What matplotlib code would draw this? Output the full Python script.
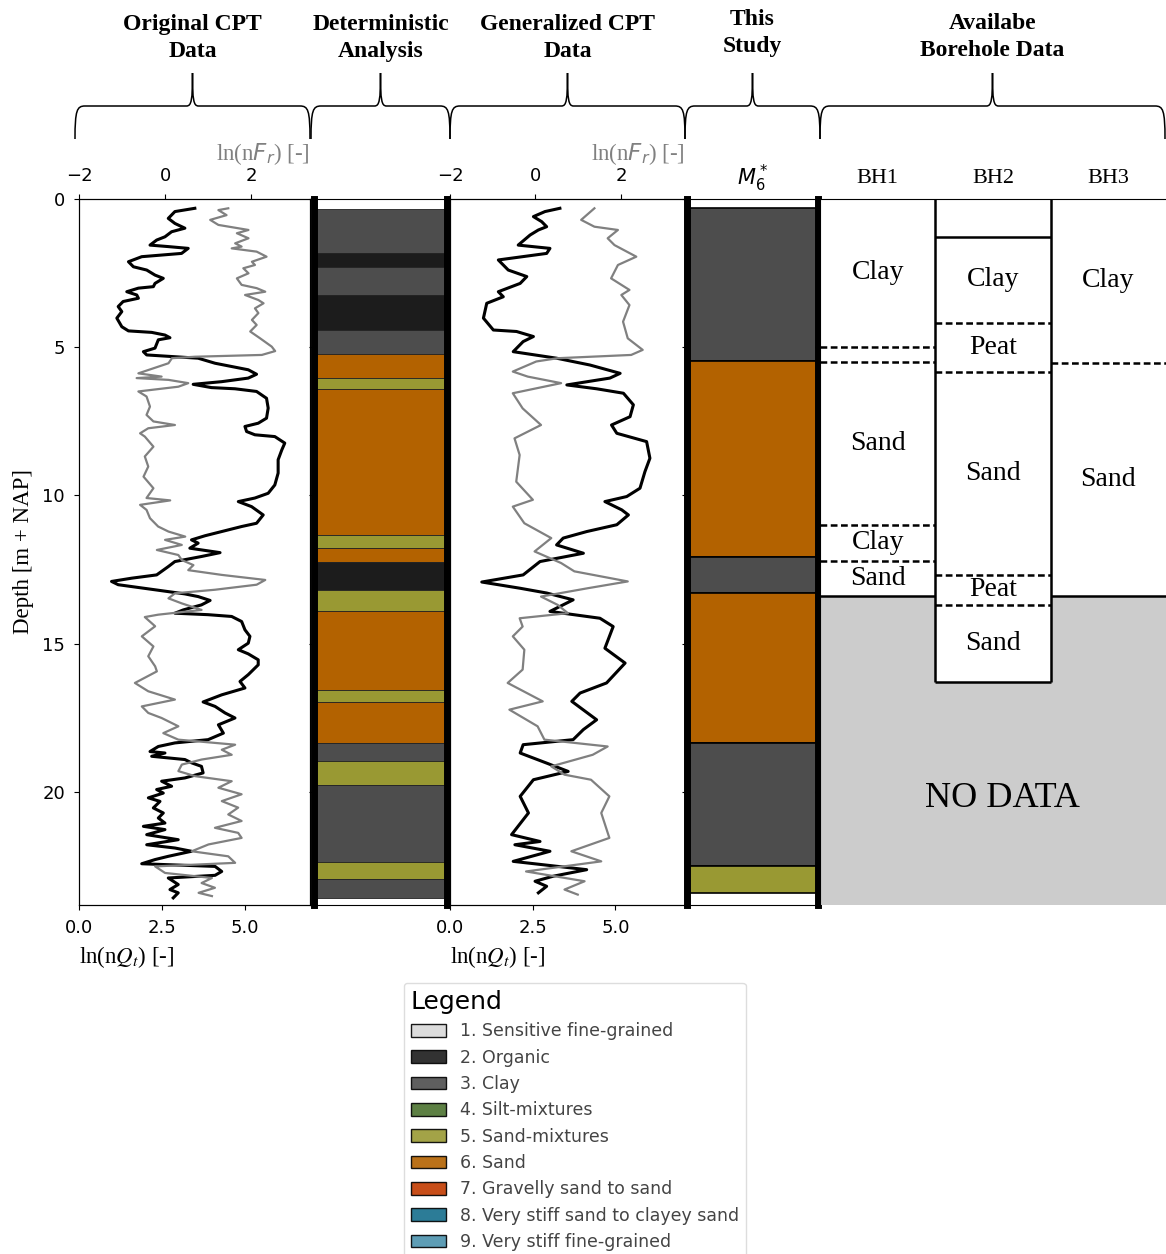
import numpy as np
import matplotlib.pyplot as plt
from matplotlib.patches import Patch, PathPatch
from matplotlib.path import Path

# ---------------- data ----------------
# original CPT, ln(nQt) (black, bottom axis)
orig_qt_depth = [0.33, 0.44, 0.67, 0.84, 1.00, 1.12, 1.29, 1.40, 1.57, 1.62, 1.68, 1.85, 1.96, 2.13, 2.30,
                 2.41, 2.58, 2.69, 2.86, 2.97, 3.02, 3.14, 3.25, 3.36, 3.47, 3.64, 3.81, 4.03, 4.32, 4.46,
                 4.51, 4.60, 4.69, 4.76, 5.04, 5.16, 5.27, 5.33, 5.38, 5.55, 5.77, 5.92, 6.05, 6.17, 6.26,
                 6.37, 6.41, 6.50, 6.73, 7.06, 7.40, 7.57, 7.68, 7.85, 7.96, 8.02, 8.24, 8.47, 8.80, 9.25,
                 9.65, 9.93, 10.09, 10.21, 10.38, 10.66, 10.94, 11.05, 11.22, 11.36, 11.50, 11.61, 11.78,
                 11.93, 12.06, 12.23, 12.40, 12.68, 12.79, 12.90, 13.01, 13.18, 13.32, 13.41, 13.54, 13.69,
                 13.86, 13.97, 14.02, 14.08, 14.25, 14.53, 14.75, 14.98, 15.20, 15.34, 15.54, 15.71, 16.04,
                 16.27, 16.49, 16.72, 16.96, 17.11, 17.33, 17.50, 17.73, 18.01, 18.23, 18.34, 18.46, 18.63,
                 18.68, 18.79, 18.90, 19.01, 19.13, 19.35, 19.52, 19.63, 19.80, 19.91, 20.03, 20.19, 20.31,
                 20.53, 20.70, 20.87, 21.04, 21.15, 21.26, 21.43, 21.60, 21.77, 21.88, 21.99, 22.16, 22.27,
                 22.41, 22.50, 22.67, 22.80, 22.89, 23.11, 23.28, 23.39, 23.56]
orig_qt = [3.49, 2.89, 2.69, 2.89, 3.19, 2.79, 2.59, 2.34, 2.14, 2.69, 3.29, 3.09, 1.89, 1.49, 1.64,
           2.04, 2.29, 2.54, 2.29, 2.24, 1.79, 1.44, 1.74, 1.79, 1.33, 1.18, 1.29, 1.14, 1.29, 1.49,
           2.19, 2.59, 2.74, 2.39, 2.29, 1.94, 2.04, 2.89, 3.59, 4.10, 5.10, 5.35, 5.10, 4.30, 3.44,
           3.99, 4.70, 5.35, 5.65, 5.70, 5.65, 5.40, 5.00, 5.05, 5.30, 5.90, 6.20, 6.11, 6.00, 6.00,
           5.90, 5.70, 5.30, 4.80, 5.20, 5.55, 5.35, 4.90, 4.30, 3.80, 3.39, 3.59, 3.34,
           4.25, 3.69, 2.89, 2.69, 2.34, 1.59, 0.98, 1.18, 2.29, 3.19, 3.59, 3.95, 3.69,
           3.14, 2.89, 3.89, 4.60, 4.90, 5.00, 5.15, 5.10, 4.80, 5.10, 5.40, 5.40, 5.10,
           4.85, 5.00, 4.30, 3.74, 4.10, 4.40, 4.70, 4.20, 4.35, 3.89, 2.89, 2.39, 2.14,
           2.59, 2.19, 3.19, 3.39, 3.69, 3.74, 3.19, 2.49, 2.79, 2.34, 2.54, 2.09, 2.44,
           2.24, 2.54, 2.39, 2.59, 1.94, 2.59, 2.04, 2.99, 2.04, 2.89, 3.39, 2.69, 2.29,
           1.89, 4.10, 4.30, 4.10, 2.69, 2.99, 2.74, 2.99, 2.84]

# original CPT, ln(nFr) (grey, top axis)
orig_fr_depth = [0.33, 0.39, 0.56, 0.72, 0.89, 1.06, 1.17, 1.34, 1.51, 1.62, 1.68, 1.79, 1.96, 2.13, 2.24,
                 2.35, 2.52, 2.69, 2.91, 3.02, 3.14, 3.25, 3.42, 3.53, 3.70, 3.86, 4.09, 4.26, 4.48, 4.71,
                 4.99, 5.14, 5.27, 5.33, 5.38, 5.55, 5.72, 5.89, 6.00, 6.05, 6.11, 6.22, 6.34, 6.50, 6.67,
                 7.01, 7.29, 7.51, 7.63, 7.74, 7.91, 8.02, 8.36, 8.69, 9.03, 9.37, 9.76, 10.09, 10.17,
                 10.32, 10.49, 10.77, 11.05, 11.22, 11.39, 11.50, 11.67, 11.84, 12.01, 12.18, 12.35, 12.52,
                 12.68, 12.85, 13.01, 13.18, 13.30, 13.47, 13.64, 13.86, 14.02, 14.10, 14.41, 14.75, 15.09,
                 15.42, 15.76, 15.93, 16.32, 16.60, 16.88, 17.11, 17.33, 17.50, 17.78, 18.01, 18.23, 18.40,
                 18.57, 18.74, 18.90, 19.07, 19.29, 19.46, 19.63, 19.85, 20.07, 20.30, 20.52, 20.75, 20.97,
                 21.20, 21.37, 21.54, 21.76, 21.99, 22.16, 22.38, 22.50, 22.72, 22.89, 23.06, 23.22, 23.39,
                 23.50]
orig_fr = [1.47, 1.24, 1.43, 1.05, 1.24, 1.94, 1.67, 1.94, 1.63, 1.78, 1.55, 2.13, 2.36, 2.02, 2.09,
           1.82, 1.94, 1.67, 1.78, 2.13, 2.33, 1.86, 2.17, 2.29, 2.09, 2.17, 2.02, 2.13, 1.98, 2.21,
           2.48, 2.56, 2.25, 0.70, 0.16, 0.08, -0.27, -0.62, -0.08, -0.66, 0.08, 0.54, 0.31, -0.62, -0.43,
           -0.35, -0.43, -0.27, 0.23, -0.39, -0.58, -0.47, -0.27, -0.47, -0.39, -0.50, -0.27, -0.43, 0.12,
           -0.58, -0.43, -0.35, -0.16, 0.08, 0.47, 0.00, 0.39, -0.19, 0.31, 0.39, 0.66, 0.54,
           1.32, 2.33, 2.13, 1.16, 0.23, 0.08, 0.39, 0.85, -0.16, -0.47, -0.23, -0.54, -0.27,
           -0.39, -0.23, -0.19, -0.70, -0.39, 0.23, -0.54, -0.39, -0.08, 0.31, -0.04, 0.31, 1.63,
           1.32, 1.55, 0.85, 0.39, 0.31, 0.70, 1.55, 1.24, 1.78, 1.32, 1.70, 1.47, 1.78,
           1.16, 1.70, 1.78, 1.01, 0.62, 1.47, 1.63, -0.23, 0.00, 1.09, 0.85, 1.16, 0.78,
           1.09]

# generalized CPT, ln(nQt)
gen_qt_depth = [0.33, 0.44, 0.61, 0.78, 0.95, 1.06, 1.23, 1.57, 1.68, 1.85, 2.07, 2.41, 2.63, 2.86, 3.14,
                3.31, 3.53, 4.03, 4.43, 4.48, 4.65, 4.82, 5.16, 5.38, 5.61, 5.89, 6.05, 6.28, 6.41, 6.56,
                6.95, 7.35, 7.63, 7.91, 8.19, 8.75, 9.20, 9.76, 10.04, 10.21, 10.49, 10.66, 10.99, 11.22,
                11.44, 11.67, 11.95, 12.23, 12.68, 12.92, 13.13, 13.29, 13.52, 13.91, 14.14, 14.42, 15.15,
                15.65, 16.32, 16.66, 16.94, 17.56, 17.89, 18.23, 18.40, 18.68, 19.02, 19.30, 19.58, 20.14,
                20.70, 21.43, 21.66, 21.77, 21.99, 22.33, 22.61, 22.83, 23.00, 23.17, 23.39]
gen_qt = [3.32, 2.87, 2.52, 2.77, 2.92, 2.67, 2.42, 2.06, 3.02, 2.92, 1.46, 1.76, 2.32, 2.12, 1.46,
          1.61, 1.11, 1.01, 1.31, 2.01, 2.52, 2.21, 1.91, 3.22, 4.23, 5.14, 4.83, 3.53, 4.43, 5.24,
          5.54, 5.44, 4.88, 5.04, 5.94, 6.04, 5.89, 5.74, 5.34, 4.68, 5.19, 5.39, 5.04, 4.13,
          3.42, 3.22, 4.03, 2.72, 2.21, 0.96, 2.12, 2.92, 3.72, 3.02, 4.53, 4.93, 4.68,
          5.29, 4.73, 3.93, 3.68, 4.43, 4.03, 3.72, 2.21, 2.12, 2.92, 3.57, 2.52, 2.12,
          2.37, 1.86, 2.72, 1.96, 3.02, 1.91, 4.13, 3.12, 2.57, 2.92, 2.67]

# generalized CPT, ln(nFr)
gen_fr_depth = [0.33, 0.72, 0.95, 1.06, 1.34, 1.57, 1.96, 2.24, 2.69, 3.08, 3.25, 3.59, 4.15, 4.71, 5.10,
                5.27, 5.38, 5.49, 5.83, 6.00, 6.22, 6.56, 7.07, 7.63, 8.08, 8.64, 9.54, 10.15, 10.38,
                10.94, 11.44, 11.89, 12.28, 12.56, 12.90, 13.13, 13.41, 13.69, 13.97, 14.14, 14.42, 14.75,
                15.20, 15.87, 16.32, 16.94, 17.22, 17.78, 18.23, 18.46, 18.74, 19.13, 19.41, 19.58, 20.14,
                20.70, 21.54, 21.99, 22.33, 22.67, 23.00, 23.28, 23.45]
gen_fr = [1.38, 1.07, 1.38, 1.93, 1.69, 1.85, 2.36, 1.93, 1.77, 2.20, 2.01, 2.20, 2.05, 2.16, 2.51,
          2.24, 0.52, 0.02, -0.53, -0.18, 0.60, -0.53, -0.30, 0.13, -0.49, -0.37, -0.45, -0.06, -0.53,
          -0.26, 0.37, -0.02, 0.60, 0.91, 2.16, 1.22, 0.13, 0.52, 0.76, -0.37, -0.30, -0.53,
          -0.26, -0.30, -0.65, 0.17, -0.61, 0.05, 0.21, 1.69, 1.34, 0.37, 0.68, 1.30, 1.73,
          1.54, 1.73, 0.84, 1.54, -0.22, 1.15, 0.68, 0.99]

# soil behaviour types (legend)
sbt_labels = ['1. Sensitive fine-grained', '2. Organic', '3. Clay', '4. Silt-mixtures',
              '5. Sand-mixtures', '6. Sand', '7. Gravelly sand to sand',
              '8. Very stiff sand to clayey sand', '9. Very stiff fine-grained']
sbt_colors = ['#d9d9d9', '#1c1c1c', '#4d4d4d', '#4b7230', '#999933', '#b36200', '#c23b00',
              '#156e8c', '#4c93ad']

# deterministic analysis layers (top, bottom, type)
det_top = [0.34, 1.83, 2.32, 3.25, 4.44, 5.23, 6.04, 6.41, 11.33, 11.76, 12.23, 13.19, 13.90, 16.55,
           16.95, 18.34, 18.96, 19.77, 22.35, 22.94]
det_bot = [1.83, 2.32, 3.25, 4.44, 5.23, 6.04, 6.41, 11.33, 11.76, 12.23, 13.19, 13.90, 16.55, 16.95,
           18.34, 18.96, 19.77, 22.35, 22.94, 23.56]
det_type = [3, 2, 3, 2, 3, 6, 5, 6, 5, 6, 2, 5, 6, 5, 6, 3, 5, 3, 5, 3]

# this study, M6*
m6_top = [0.32, 5.46, 12.08, 13.28, 18.34, 22.49]
m6_bot = [5.46, 12.08, 13.28, 18.34, 22.49, 23.38]
m6_type = [3, 6, 3, 6, 3, 5]

# boreholes
bh_names = ['BH1', 'BH2', 'BH3']
bh1_tops = [0.0, 5.0, 5.5, 11.0, 12.2]
bh1_soil = ['Clay', '', 'Sand', 'Clay', 'Sand']
bh1_end = 13.4
bh2_tops = [1.3, 4.18, 5.83, 12.68, 13.69]
bh2_soil = ['Clay', 'Peat', 'Sand', 'Peat', 'Sand']
bh2_end = 16.28
bh3_tops = [0.0, 5.55]
bh3_soil = ['Clay', 'Sand']
bh3_end = 13.38

group_titles = ['Original CPT\nData', 'Deterministic\nAnalysis', 'Generalized CPT\nData',
                'This\nStudy', 'Availabe\nBorehole Data']

# ---------------- figure ----------------
W, H = 1166, 1254
fig = plt.figure(figsize=(W / 100, H / 100), dpi=100)
SERIF = 'Liberation Serif'
DEPTH_MAX = 23.8
y0 = 1 - 905 / H
hgt = (905 - 198.5) / H


def px_axes(x0, x1):
    return fig.add_axes([x0 / W, y0, (x1 - x0) / W, hgt])


ax1 = px_axes(79, 310)
ax2 = px_axes(314, 447)
ax3 = px_axes(450, 685)
ax4 = px_axes(686.5, 818.5)
ax5 = px_axes(820, 1166)

for ax in (ax1, ax2, ax3, ax4, ax5):
    ax.set_ylim(DEPTH_MAX, 0)
    ax.set_yticks([0, 5, 10, 15, 20])
    ax.tick_params(labelsize=13, pad=6.5)
for ax in (ax2, ax3, ax4, ax5):
    ax.tick_params(labelleft=False)


def cpt_panel(ax, qd, q, fd, f, xmax, fmax):
    ax.plot(q, qd, color='black', lw=2.2, zorder=3)
    ax.set_xlim(0, xmax)
    ax.set_xticks([0, 2.5, 5.0])
    ax.set_xlabel('ln(n$Q_t$) [-]', loc='left', fontsize=16.5, family=SERIF,
                  math_fontfamily='stix', labelpad=5)
    axt = ax.twiny()
    axt.plot(f, fd, color='grey', lw=1.6, zorder=2)
    axt.set_xlim(-2, fmax)
    axt.set_xticks([-2, 0, 2])
    axt.tick_params(labelsize=13, pad=6.5)
    axt.set_xlabel('ln(n$F_r$) [-]', loc='right', fontsize=16.5, family=SERIF,
                   color='grey', labelpad=5)
    axt.set_ylim(DEPTH_MAX, 0)
    return axt


cpt_panel(ax1, orig_qt_depth, orig_qt, orig_fr_depth, orig_fr, 6.96, 3.37)
cpt_panel(ax3, gen_qt_depth, gen_qt, gen_fr_depth, gen_fr, 7.1, 3.5)
ax1.set_ylabel('Depth [m + NAP]', fontsize=16.5, family=SERIF, labelpad=6)


def layer_panel(ax, tops, bots, types, edge_lw, edge_col):
    tops = np.array(tops)
    bots = np.array(bots)
    cols = [sbt_colors[t - 1] for t in types]
    ax.barh(tops, 1, height=bots - tops, left=0, align='edge', color=cols,
            edgecolor=edge_col, linewidth=edge_lw)
    ax.set_xlim(0, 1)
    ax.set_ylim(DEPTH_MAX, 0)
    ax.tick_params(bottom=False, labelbottom=False)
    for s in ('left', 'right'):
        ax.spines[s].set_linewidth(5)
        ax.spines[s].set_zorder(5)


layer_panel(ax2, det_top, det_bot, det_type, 0.6, '#222222')
layer_panel(ax4, m6_top, m6_bot, m6_type, 1.2, 'black')
ax4.text(0.5, 1.028, '$M_6^*$', transform=ax4.transAxes, ha='center', va='center', fontsize=15)

# boreholes
ax5.set_xlim(0, 3)
ax5.set_ylim(DEPTH_MAX, 0)
ax5.tick_params(bottom=False, labelbottom=False)
ax5.spines['bottom'].set_visible(False)
ax5.spines['right'].set_visible(False)
dash = (0, (2.7, 1.4))
boreholes = [(bh1_tops, bh1_soil, bh1_end), (bh2_tops, bh2_soil, bh2_end), (bh3_tops, bh3_soil, bh3_end)]
for i, (tops, soil, end) in enumerate(boreholes):
    bounds = tops + [end]
    for k, name in enumerate(soil):
        mid = (bounds[k] + bounds[k + 1]) / 2
        ax5.text(i + 0.5, mid, name, ha='center', va='center', fontsize=20, family=SERIF)
    for b in tops[1:]:
        ax5.hlines(b, i, i + 1, colors='black', linestyles=dash, lw=1.8)
    if tops[0] > 0:
        ax5.hlines(tops[0], i, i + 1, colors='black', lw=1.8)
    ax5.bar(i, DEPTH_MAX - end, bottom=end, width=1, align='edge', color='#cccccc', zorder=0)
    ax5.hlines(end, i, i + 1, colors='black', lw=1.8)
    ax5.text(i + 0.5, 1.028, bh_names[i], transform=ax5.get_xaxis_transform(),
             ha='center', va='center', fontsize=16, family=SERIF)
ax5.vlines([1, 2], 0, bh2_end, colors='black', lw=1.8)
ax5.text(1.58, 20.2, 'NO DATA', ha='center', va='center', fontsize=26, family=SERIF)

# group titles with curly braces (pixel overlay)
ov = fig.add_axes([0, 0, 1, 1], zorder=-1)
ov.set_xlim(0, W)
ov.set_ylim(H, 0)
ov.axis('off')
spans = [(75, 310), (311, 450), (450, 685), (685, 820), (820, 1165)]
title_y = [38, 38, 38, 33, 37]


def brace(ax, xa, xb, yl=106, yt=139, yp=73):
    xm = (xa + xb) / 2
    verts = [(xa, yt), (xa, yl + 4), (xa + 2, yl), (xa + 10, yl),
             (xm - 6, yl), (xm - 1, yl), (xm, yl - 6), (xm, yp),
             (xm, yl - 6), (xm + 1, yl), (xm + 6, yl),
             (xb - 10, yl), (xb - 2, yl), (xb, yl + 4), (xb, yt)]
    codes = [Path.MOVETO] + [Path.CURVE4] * 3 + [Path.LINETO] + [Path.CURVE4] * 6 + \
            [Path.LINETO] + [Path.CURVE4] * 3
    ax.add_patch(PathPatch(Path(verts, codes), fc='none', ec='black', lw=1.1))


for (xa, xb), t, ty in zip(spans, group_titles, title_y):
    brace(ov, xa, xb)
    ov.text((xa + xb) / 2, ty, t, ha='center', va='center', fontsize=17, family=SERIF,
            fontweight='bold', linespacing=1.35)

# legend
handles = [Patch(facecolor=c, edgecolor='black', alpha=0.9) for c in sbt_colors]
fig.legend(handles, sbt_labels, title='Legend', loc='upper left',
           bbox_to_anchor=(404 / W, 1 - 983 / H), borderaxespad=0, fontsize=12.5,
           title_fontsize=18, alignment='left', labelcolor='#444444', labelspacing=0.48,
           handlelength=2.0, handleheight=0.75, edgecolor='#dddddd', framealpha=1)

fig.savefig('out.png', dpi=100)
